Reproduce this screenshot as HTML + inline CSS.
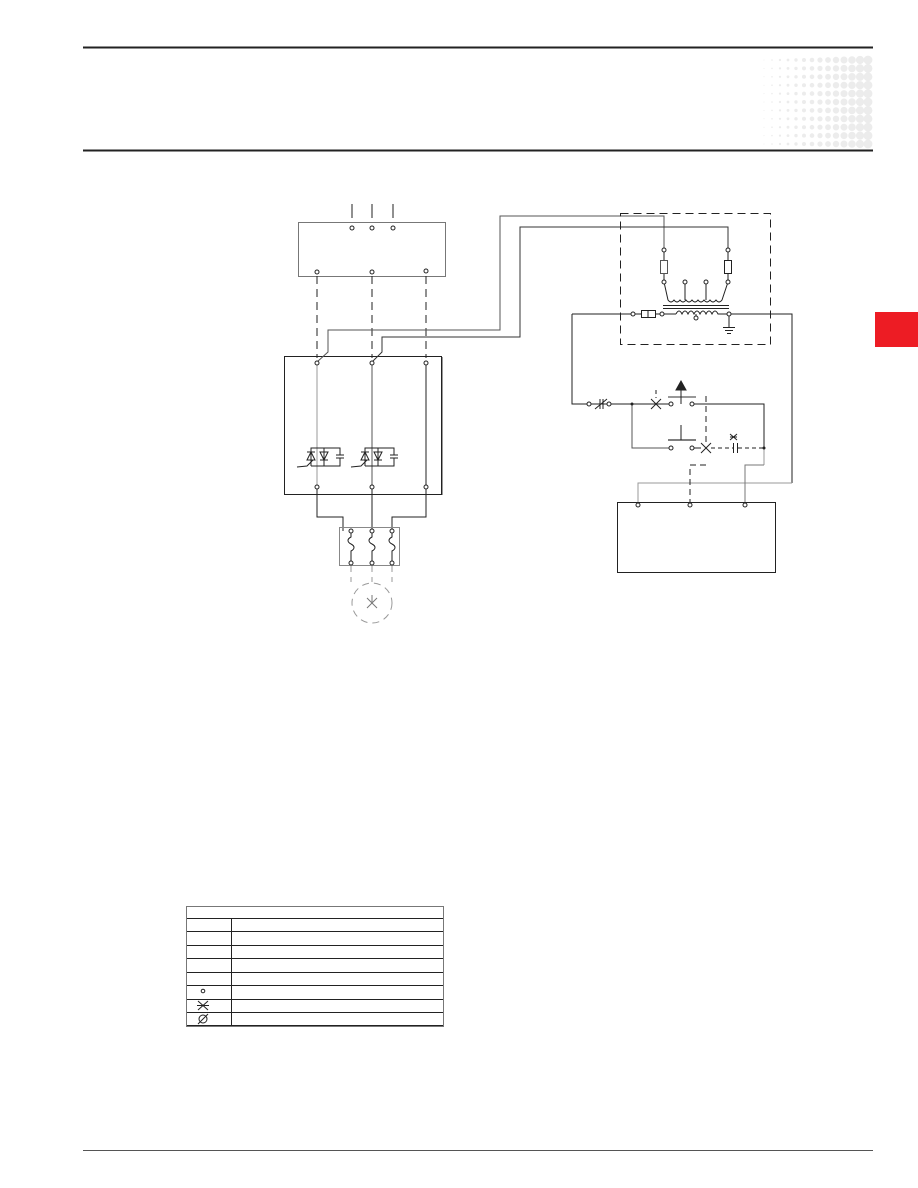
<!DOCTYPE html>
<html><head><meta charset="utf-8"><style>
body{margin:0;background:#fff;}
svg{display:block;}
</style></head><body>
<svg width="918" height="1188" viewBox="0 0 918 1188" xmlns="http://www.w3.org/2000/svg" font-family="Liberation Sans, sans-serif">
<g stroke="#ececec" stroke-linecap="round" stroke-dasharray="0,8.4">
<line x1="764" y1="60" x2="764" y2="146" stroke-width="1"/>
<line x1="772" y1="60" x2="772" y2="146" stroke-width="1.6"/>
<line x1="780" y1="60" x2="780" y2="146" stroke-width="2.2"/>
<line x1="788" y1="60" x2="788" y2="146" stroke-width="2.8"/>
<line x1="796" y1="60" x2="796" y2="146" stroke-width="3.4"/>
<line x1="804" y1="60" x2="804" y2="146" stroke-width="4"/>
<line x1="812" y1="60" x2="812" y2="146" stroke-width="4.6"/>
<line x1="820" y1="60" x2="820" y2="146" stroke-width="5.2"/>
<line x1="828" y1="60" x2="828" y2="146" stroke-width="5.8"/>
<line x1="836" y1="60" x2="836" y2="146" stroke-width="6.4"/>
<line x1="844" y1="60" x2="844" y2="146" stroke-width="7"/>
<line x1="852" y1="60" x2="852" y2="146" stroke-width="7.6"/>
<line x1="860" y1="60" x2="860" y2="146" stroke-width="8.2"/>
<line x1="868" y1="60" x2="868" y2="146" stroke-width="8.8"/>
</g>
<line x1="83" y1="47.5" x2="873" y2="47.5" stroke="#222" stroke-width="2"/>
<line x1="83" y1="150.5" x2="873" y2="150.5" stroke="#222" stroke-width="2"/>
<line x1="83" y1="1150.5" x2="873" y2="1150.5" stroke="#555" stroke-width="1"/>
<rect x="875" y="312" width="43" height="35" fill="#ed1c24"/>

<g fill="none" stroke="#222" stroke-width="1">
<line x1="352" y1="204" x2="352" y2="218"/><line x1="372" y1="204" x2="372" y2="218"/><line x1="393" y1="204" x2="393" y2="218"/>
<rect x="298.5" y="222.5" width="147" height="54" stroke="#777"/>
<g stroke-dasharray="8,5"><line x1="317" y1="276" x2="317" y2="358"/><line x1="372" y1="276" x2="372" y2="358"/><line x1="426" y1="276" x2="426" y2="358"/></g>
<rect x="284.5" y="356.5" width="157" height="138"/>
<line x1="442.5" y1="357" x2="442.5" y2="495" stroke="#999"/>
<line x1="317" y1="363" x2="317" y2="487" stroke="#999"/>
<line x1="372" y1="363" x2="372" y2="487" stroke="#555"/>
<line x1="426" y1="363" x2="426" y2="487"/>
<polyline points="317,362 328,352 328,330 500,330 500,216 664,216 664,250" stroke="#555"/>
<polyline points="372,362 382,352 382,337 520,337 520,227 728,227 728,250" stroke="#333"/>
<g id="thy1">
<polyline points="311,466 311,448 340,448 340,455"/><polyline points="311,466 340,466 340,458"/>
<line x1="324" y1="448" x2="324" y2="466"/>
<polygon points="311,452 307,460 315,460"/><line x1="307" y1="452" x2="315" y2="452"/>
<polygon points="320,452 328,452 324,460"/><line x1="320" y1="460" x2="328" y2="460"/>
<line x1="336" y1="455" x2="344" y2="455"/><line x1="336" y1="458" x2="344" y2="458"/>
<polyline points="297,467 307,466 313,460"/>
</g>
<use href="#thy1" transform="translate(54,0)"/>
<polyline points="317,487 317,517 343,517 343,531"/>
<line x1="372" y1="487" x2="372" y2="531"/>
<polyline points="426,487 426,517 392,517 392,531"/>
<rect x="339.5" y="527.5" width="60" height="38" stroke="#888"/>
<g id="fz"><path d="M351,531 v6 c-4,2 -4,5 0,7 c4,2 4,5 0,7 v12"/></g>
<use href="#fz" transform="translate(21,0)"/><use href="#fz" transform="translate(41,0)"/>
<g stroke="#999" stroke-dasharray="7,5"><line x1="351" y1="565" x2="351" y2="582"/><line x1="372" y1="565" x2="372" y2="582"/><line x1="392" y1="565" x2="392" y2="582"/>
<circle cx="372" cy="603" r="20"/></g>
<g stroke="#777"><line x1="367" y1="598" x2="377" y2="608"/><line x1="377" y1="598" x2="367" y2="608"/><line x1="372" y1="595" x2="372" y2="602"/></g>

<rect x="620.5" y="213.5" width="150" height="131" stroke-dasharray="8,5"/>
<line x1="664" y1="250" x2="664" y2="282"/><line x1="728" y1="250" x2="728" y2="282"/>
<rect x="660.5" y="260.5" width="7" height="13" fill="#fff" stroke="#555"/>
<rect x="724.5" y="260.5" width="7" height="13" fill="#fff"/>
<line x1="685" y1="282" x2="685" y2="300"/><line x1="706" y1="282" x2="706" y2="300"/>
<path d="M664,282 L668,300 q3,4 6,0 q3,4 6,0 q3,4 6,0 q3,4 6,0 q3,4 6,0 q3,4 6,0 q3,4 6,0 q3,4 6,0 q3,4 6,0 L728,282"/>
<line x1="663" y1="305.5" x2="729" y2="305.5"/><line x1="663" y1="308.5" x2="729" y2="308.5"/>
<line x1="572" y1="314" x2="641" y2="314"/>
<rect x="641.5" y="310.5" width="14" height="7" fill="#fff"/>
<line x1="648" y1="310" x2="648" y2="318"/>
<line x1="655" y1="314" x2="676" y2="314"/>
<path d="M676,314 q3,-6 6,0 q3,-6 6,0 q3,-6 6,0 q3,-6 6,0 q3,-6 6,0 q3,-6 6,0 q3,-6 6,0 L792,314 L792,483"/>
<line x1="696" y1="314" x2="696" y2="318"/>
<line x1="729" y1="314" x2="729" y2="327"/>
<line x1="723" y1="327.5" x2="735" y2="327.5"/><line x1="725" y1="330.5" x2="733" y2="330.5"/><line x1="727" y1="333.5" x2="731" y2="333.5"/>
<polyline points="792,483 638,483 638,505" stroke="#999"/>
<polyline points="572,314 572,404 589,404"/>
<line x1="589" y1="404" x2="609" y2="404"/>
<line x1="600" y1="399" x2="600" y2="409"/><line x1="603" y1="399" x2="603" y2="409"/><line x1="595" y1="409" x2="607" y2="399"/>
<line x1="609" y1="404" x2="671" y2="404"/>
<line x1="651" y1="399" x2="661" y2="409"/><line x1="661" y1="399" x2="651" y2="409"/>
<line x1="656" y1="390" x2="656" y2="398" stroke-dasharray="4,3"/>
<line x1="668" y1="397" x2="696" y2="397" stroke="#777" stroke-width="1.5"/>
<line x1="681" y1="388" x2="681" y2="404"/>
<polygon points="681,381 676,390 686,390" fill="#222"/>
<polyline points="692,404 764,404 764,448"/>
<line x1="764" y1="448" x2="764" y2="465" stroke="#999"/>
<polyline points="764,465 745,465 745,505" stroke="#777"/>
<polyline points="632,404 632,448 670,448" stroke="#555"/>
<line x1="668" y1="440" x2="696" y2="440" stroke="#555" stroke-width="1.5"/>
<line x1="681" y1="425" x2="681" y2="440"/>
<line x1="693" y1="448" x2="701" y2="448"/>
<line x1="701" y1="443" x2="711" y2="453"/><line x1="711" y1="443" x2="701" y2="453"/>
<line x1="706" y1="396" x2="706" y2="445" stroke-dasharray="6,4"/>
<line x1="711" y1="448" x2="733" y2="448" stroke-dasharray="4,3"/>
<line x1="733.5" y1="443" x2="733.5" y2="453"/><line x1="737.5" y1="443" x2="737.5" y2="453"/>
<line x1="738" y1="448" x2="764" y2="448" stroke-dasharray="4,3"/>
<g><line x1="730" y1="434" x2="737" y2="440"/><line x1="737" y1="434" x2="730" y2="440"/><line x1="730" y1="437" x2="737" y2="437"/></g>
<polyline points="706,465 690,465 690,505" stroke-dasharray="6,4"/>
<rect x="617.5" y="502.5" width="158" height="70"/>
</g>
<g fill="#fff" stroke="#222" stroke-width="1">
<circle cx="352" cy="228" r="2"/><circle cx="372" cy="228" r="2"/><circle cx="393" cy="228" r="2"/>
<circle cx="317" cy="272" r="2"/><circle cx="372" cy="272" r="2"/><circle cx="426" cy="271" r="2"/>
<circle cx="317" cy="363" r="2"/><circle cx="372" cy="363" r="2"/><circle cx="426" cy="363" r="2"/>
<circle cx="317" cy="487" r="2"/><circle cx="372" cy="487" r="2"/><circle cx="426" cy="487" r="2"/>
<circle cx="351" cy="531" r="2"/><circle cx="372" cy="531" r="2"/><circle cx="392" cy="531" r="2"/>
<circle cx="351" cy="563" r="2"/><circle cx="372" cy="563" r="2"/><circle cx="392" cy="563" r="2"/>
<circle cx="664" cy="250" r="2"/><circle cx="728" cy="250" r="2"/><circle cx="664" cy="282" r="2"/><circle cx="728" cy="282" r="2"/>
<circle cx="685" cy="282" r="2"/><circle cx="706" cy="282" r="2"/>
<circle cx="633" cy="314" r="2"/><circle cx="662" cy="314" r="2"/><circle cx="729" cy="314" r="2"/><circle cx="696" cy="318" r="2"/>
<circle cx="589" cy="404" r="2"/><circle cx="609" cy="404" r="2"/><circle cx="671" cy="404" r="2"/><circle cx="692" cy="404" r="2"/>
<circle cx="671" cy="448" r="2"/><circle cx="692" cy="448" r="2"/>
<circle cx="638" cy="505" r="2"/><circle cx="690" cy="505" r="2"/><circle cx="745" cy="505" r="2"/>
</g>
<circle cx="632" cy="404" r="1.5" fill="#222"/><circle cx="764" cy="448" r="1.5" fill="#222"/>

<g fill="none" stroke="#222" stroke-width="1">
<rect x="186.5" y="906.5" width="257" height="120" stroke="#777"/>
<line x1="187" y1="918.5" x2="443" y2="918.5"/><line x1="187" y1="931.5" x2="443" y2="931.5"/><line x1="187" y1="945.5" x2="443" y2="945.5"/><line x1="187" y1="958.5" x2="443" y2="958.5"/><line x1="187" y1="972.5" x2="443" y2="972.5"/><line x1="187" y1="985.5" x2="443" y2="985.5"/><line x1="187" y1="999.5" x2="443" y2="999.5"/><line x1="187" y1="1012.5" x2="443" y2="1012.5"/><line x1="187" y1="1025.5" x2="443" y2="1025.5"/>
<line x1="231.5" y1="918" x2="231.5" y2="1026"/>
<circle cx="203" cy="991" r="1.8"/>
<line x1="198" y1="1001" x2="208" y2="1010"/><line x1="208" y1="1001" x2="198" y2="1010"/><line x1="197" y1="1005.5" x2="209" y2="1005.5"/>
<circle cx="203" cy="1019" r="4"/><line x1="198" y1="1024" x2="208" y2="1014"/>
</g>
</svg>
</body></html>
